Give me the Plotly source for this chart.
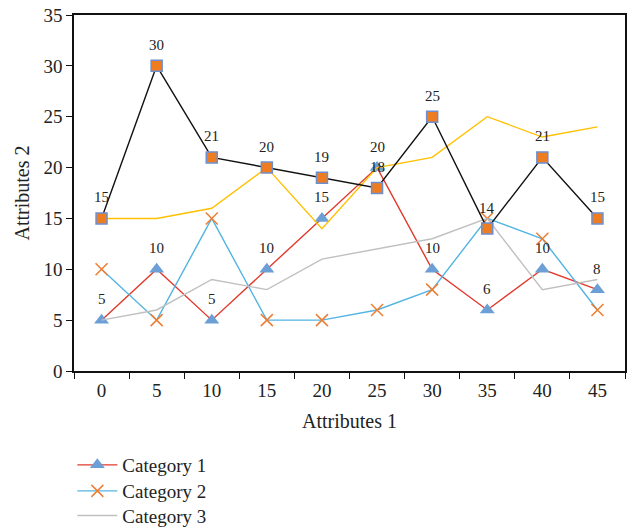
import plotly.graph_objects as go

x_vals = [0, 5, 10, 15, 20, 25, 30, 35, 40, 45]
cat1 = [5, 10, 5, 10, 15, 20, 10, 6, 10, 8]
cat2 = [10, 5, 15, 5, 5, 6, 8, 15, 13, 6]
cat3 = [5, 6, 9, 8, 11, 12, 13, 15, 8, 9]
cat4 = [15, 15, 16, 20, 14, 20, 21, 25, 23, 24]
cat5 = [15, 30, 21, 20, 19, 18, 25, 14, 21, 15]

FONT = "Liberation Serif"

fig = go.Figure()
fig.add_trace(go.Scatter(
    x=x_vals, y=cat1, name="Category 1", mode="lines+markers", legend="legend",
    line=dict(color="#e2382b", width=1.4),
    marker=dict(symbol="triangle-up", size=13, color="#6b9fd6"),
))
fig.add_trace(go.Scatter(
    x=x_vals, y=cat2, name="Category 2", mode="lines+markers", legend="legend2",
    line=dict(color="#52b4e2", width=1.4),
    marker=dict(symbol="x-thin", size=12, line=dict(color="#ee7d33", width=1.5)),
))
fig.add_trace(go.Scatter(
    x=x_vals, y=cat3, name="Category 3", mode="lines", legend="legend3",
    line=dict(color="#c0c0c0", width=1.4),
))
fig.add_trace(go.Scatter(
    x=x_vals, y=cat4, name="Category 4", mode="lines", showlegend=False,
    line=dict(color="#ffc000", width=1.4),
))
fig.add_trace(go.Scatter(
    x=x_vals, y=cat5, name="Category 5", mode="lines+markers", showlegend=False,
    line=dict(color="#111111", width=1.4),
    marker=dict(symbol="square", size=11, color="#ee7d22", line=dict(color="#6d8fd0", width=1.5)),
))

annotations = []
for series in (cat1, cat5):
    for xv, v in zip(x_vals, series):
        annotations.append(dict(
            x=xv, y=v, xref="x", yref="y", text=str(v), showarrow=False,
            yshift=21, yanchor="middle",
            font=dict(family=FONT, size=15, color="#222"),
        ))

def leg(ypos):
    return dict(x=-0.003, y=ypos, xanchor="left", yanchor="middle", yref="container",
                font=dict(family=FONT, size=19, color="#222"),
                itemwidth=40, bgcolor="rgba(0,0,0,0)")

fig.update_layout(
    width=630, height=531,
    margin=dict(l=74, r=5, t=15, b=160),
    plot_bgcolor="white", paper_bgcolor="white",
    font=dict(family=FONT, size=19, color="#222"),
    showlegend=True,
    legend=leg(0.1243),
    legend2=leg(0.0753),
    legend3=leg(0.0290),
    annotations=annotations,
    xaxis=dict(
        range=[-2.5, 47.5], tickvals=x_vals, ticks="", ticklabelstandoff=1,
        minor=dict(tick0=2.5, dtick=5, ticks="outside", ticklen=6, tickcolor="#111"),
        showline=True, linecolor="#111", linewidth=1.6,
        mirror=True, showgrid=False, zeroline=False, automargin=False,
        title=dict(text="Attributes 1", standoff=14, font=dict(family=FONT, size=20)),
        tickfont=dict(family=FONT, size=19),
    ),
    yaxis=dict(
        range=[0, 35], dtick=5, ticks="outside", ticklen=6, tickcolor="#111",
        showline=True, linecolor="#111", linewidth=1.6, mirror=True,
        showgrid=False, zeroline=False, automargin=False,
        title=dict(text="Attributes 2", standoff=8, font=dict(family=FONT, size=20)),
        tickfont=dict(family=FONT, size=19),
    ),
)

fig.write_html("out.html")
